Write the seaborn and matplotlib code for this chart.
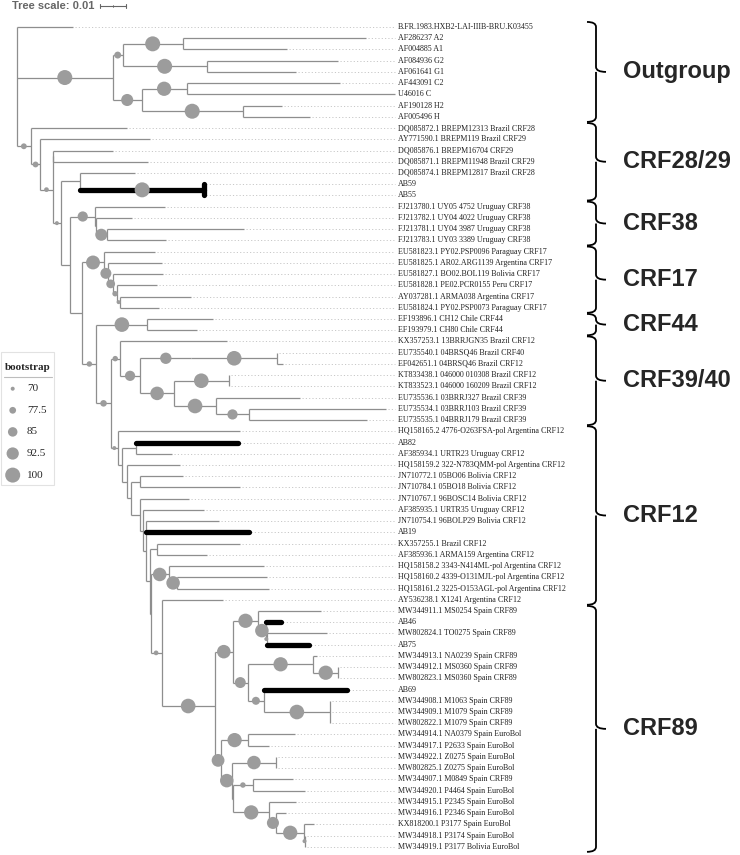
import matplotlib
matplotlib.use("Agg")
import matplotlib.pyplot as plt
import seaborn as sns
from matplotlib.collections import LineCollection
from matplotlib.path import Path
from matplotlib.patches import PathPatch, Rectangle

# ---- data --------------------------------------------------------------
leaf_labels = [
    "B.FR.1983.HXB2-LAI-IIIB-BRU.K03455", "AF286237 A2", "AF004885 A1",
    "AF084936 G2", "AF061641 G1", "AF443091 C2", "U46016 C", "AF190128 H2",
    "AF005496 H",
    "DQ085872.1 BREPM12313 Brazil CRF28", "AY771590.1 BREPM119 Brazil CRF29",
    "DQ085876.1 BREPM16704 CRF29", "DQ085871.1 BREPM11948 Brazil CRF29",
    "DQ085874.1 BREPM12817 Brazil CRF28", "AB59", "AB55",
    "FJ213780.1 UY05 4752 Uruguay CRF38", "FJ213782.1 UY04 4022 Uruguay CRF38",
    "FJ213781.1 UY04 3987 Uruguay CRF38", "FJ213783.1 UY03 3389 Uruguay CRF38",
    "EU581823.1 PY02.PSP0096 Paraguay CRF17",
    "EU581825.1 AR02.ARG1139 Argentina CRF17",
    "EU581827.1 BO02.BOL119 Bolivia CRF17", "EU581828.1 PE02.PCR0155 Peru CRF17",
    "AY037281.1 ARMA038 Argentina CRF17",
    "EU581824.1 PY02.PSP0073 Paraguay CRF17",
    "EF193896.1 CH12 Chile CRF44", "EF193979.1 CH80 Chile CRF44",
    "KX357253.1 13BRRJGN35 Brazil CRF12", "EU735540.1 04BRSQ46 Brazil CRF40",
    "EF042651.1 04BRSQ46 Brazil CRF12", "KT833438.1 046000 010308 Brazil CRF12",
    "KT833523.1 046000 160209 Brazil CRF12", "EU735536.1 03BRRJ327 Brazil CRF39",
    "EU735534.1 03BRRJ103 Brazil CRF39", "EU735535.1 04BRRJ179 Brazil CRF39",
    "HQ158165.2 4776-O263FSA-pol Argentina CRF12", "AB82",
    "AF385934.1 URTR23 Uruguay CRF12", "HQ158159.2 322-N783QMM-pol Argentina CRF12",
    "JN710772.1 05BO06 Bolivia CRF12", "JN710784.1 05BO18 Bolivia CRF12",
    "JN710767.1 96BOSC14 Bolivia CRF12", "AF385935.1 URTR35 Uruguay CRF12",
    "JN710754.1 96BOLP29 Bolivia CRF12", "AB19", "KX357255.1 Brazil CRF12",
    "AF385936.1 ARMA159 Argentina CRF12", "HQ158158.2 3343-N414ML-pol Argentina CRF12",
    "HQ158160.2 4339-O131MJL-pol Argentina CRF12",
    "HQ158161.2 3225-O153AGL-pol Argentina CRF12", "AY536238.1 X1241 Argentina CRF12",
    "MW344911.1 MS0254 Spain CRF89", "AB46", "MW802824.1 TO0275 Spain CRF89", "AB75",
    "MW344913.1 NA0239 Spain CRF89", "MW344912.1 MS0360 Spain CRF89",
    "MW802823.1 MS0360 Spain CRF89", "AB69", "MW344908.1 M1063 Spain CRF89",
    "MW344909.1 M1079 Spain CRF89", "MW802822.1 M1079 Spain CRF89",
    "MW344914.1 NA0379 Spain EuroBol", "MW344917.1 P2633 Spain EuroBol",
    "MW344922.1 Z0275 Spain EuroBol", "MW802825.1 Z0275 Spain EuroBol",
    "MW344907.1 M0849 Spain CRF89", "MW344920.1 P4464 Spain EuroBol",
    "MW344915.1 P2345 Spain EuroBol", "MW344916.1 P2346 Spain EuroBol",
    "KX818200.1 P3177 Spain EuroBol", "MW344918.1 P3174 Spain EuroBol",
    "MW344919.1 P3177 Bolivia EuroBol",
]

# newick pieces: leaves are 1-based indices into leaf_labels,
# internal labels are bootstrap support, lengths in subst./site
outgroup_nwk = ("(((2:0.0704,3:0.0400)100:0.0232,(4:0.0504,5:0.0342)100:0.0324)78:0.0037,"
                "((6:0.0588,7:0.0800)98:0.0174,(8:0.0150,9:0.0258)100:0.0390)92:0.0110)100:0.0370")
crf38_nwk = "(17:0.0269,(18:0.0139,(19:0.0528,20:0.0228)92:0.0043):0.0002)87:0.0096"
crf17_nwk = ("(21:0.0199,(22:0.0207,(23:0.0191,(24:0.0153,(25:0.0272,26:0.0149)70:0.0012)74:0.0015)"
             "83:0.0019)89:0.0018)97:0.0081")
crf44_nwk = "(27:0.0252,28:0.0192)99:0.0197"
crf3940_nwk = ("(29:0.0413,(((30:0,31:0.0023)99:0.0331)90:0.0195,((32:0,33:0)99:0.0212,"
               "(34:0.0323,(35:0.0530,36:0.0455)87:0.0124)99:0.0164)96:0.0128)87:0.0080)74:0.0034")
crf89_nwk = ("(((53:0.0242,(54:0.0058,(55:0.0232,56:0.0163)70:0.0006)96:0.0028)98:0.0098,"
             "((57:0.0015,(58:0,59:0)98:0.0095)98:0.0252,(60:0.0318,(61:0,62:0,63:0)99:0.0253)81:0.0062)"
             "89:0.0058)96:0.0069,((64:0.0183,65:0.0081)98:0.0102,((66:0,67:0)96:0.0167,"
             "((68:0.0154,69:0.0199)74:0.0076,(70:0.0103,(71:0.0035,(72:0.0038,(73:0,74:0)70:0.0004)"
             "98:0.0106)92:0.0027)98:0.0140):0.0003)96:0.0042)94:0.0025)99:0.0205")
crf12_nwk = ("(37:0.0471,((38:0.0392,39:0.0139):0.0053,(40:0.0205,((41:0.0167,42:0.0385):0.0032,"
             "(43:0.0188,(44:0.0233,(45:0.0278,46:0.0393,((47:0.0320,48:0.0190):0.0028,"
             "((49:0.0368,(50:0.0345,51:0.0353)96:0.0033)96:0.0070,(52:0.0237," + crf89_nwk +
             ")72:0.0042):0.0003):0.0013):0.0013):0.0012):0.0033):0.0017):0.0019):0.0016)70:0.0027")
crf2829_nwk = ("(10:0.0369,(11:0.0423,((12:0.0231,13:0.0364):0.0002,((14:0.0212,(15:0,16:0)100:0.0477)"
               ":0.0074,(" + crf38_nwk + ",(" + crf17_nwk + ",(" + crf44_nwk + ",(" + crf3940_nwk +
               "," + crf12_nwk + ")77:0.0056)74:0.0053):0.0047):0.0036)70:0.0031)72:0.0049)75:0.0035)75:0.0055")
tree_nwk = "(1:0.0217," + outgroup_nwk + "," + crf2829_nwk + ");"

study_samples = ["AB59", "AB55", "AB82", "AB19", "AB46", "AB75", "AB69"]
clade_names = ["Outgroup", "CRF28/29", "CRF38", "CRF17", "CRF44", "CRF39/40", "CRF12", "CRF89"]
clade_first = [1, 10, 17, 21, 27, 29, 37, 53]
clade_last = [9, 16, 20, 26, 28, 36, 52, 74]
legend_values = [70, 77.5, 85, 92.5, 100]

# ---- layout -----------------------------------------------------------
X0, PX_PER_UNIT = 16.7, 2600.0
Y0, ROW_H = 27.0, 11.23
LABEL_X = 398
GREY = "#8e8e8e"
DOT = "#9c9c9c"


def parse(s):
    pos = 0

    def node():
        nonlocal pos
        n = {"children": [], "name": None, "support": None, "len": 0.0}
        if s[pos] == "(":
            pos += 1
            while True:
                n["children"].append(node())
                if s[pos] == ",":
                    pos += 1
                    continue
                pos += 1
                break
        start = pos
        while s[pos] not in ":,);":
            pos += 1
        lab = s[start:pos]
        if lab:
            if n["children"]:
                n["support"] = float(lab)
            else:
                n["name"] = int(lab)
        if s[pos] == ":":
            pos += 1
            start = pos
            while s[pos] not in ",);":
                pos += 1
            n["len"] = float(s[start:pos])
        return n

    return node()


def layout(n, x):
    n["x"] = x
    if not n["children"]:
        n["y"] = Y0 + (n["name"] - 1) * ROW_H
        n["leaves"] = [leaf_labels[n["name"] - 1]]
        return
    for c in n["children"]:
        layout(c, x + c["len"] * PX_PER_UNIT)
    n["y"] = (n["children"][0]["y"] + n["children"][-1]["y"]) / 2
    n["leaves"] = [l for c in n["children"] for l in c["leaves"]]


root = parse(tree_nwk)
layout(root, X0)

branches, thick, dots = [], [], []
cx, cy, cb = [], [], []
tips = []


def walk(n, parent=None):
    hl = all(l in study_samples for l in n["leaves"])
    if parent is not None:
        seg = [(parent["x"], n["y"]), (n["x"], n["y"])]
        (thick if hl and n["x"] - parent["x"] > 1 else branches).append(seg)
        if n["support"] is not None and n["support"] >= 70:
            cx.append((parent["x"] + n["x"]) / 2)
            cy.append(n["y"])
            cb.append(n["support"])
    if n["children"]:
        seg = [(n["x"], n["children"][0]["y"]), (n["x"], n["children"][-1]["y"])]
        (thick if hl else branches).append(seg)
        for c in n["children"]:
            walk(c, n)
    else:
        tips.append((n["x"], n["y"], leaf_labels[n["name"] - 1]))
        if n["x"] < LABEL_X - 6:
            dots.append([(n["x"] + 2, n["y"]), (LABEL_X - 3, n["y"])])


walk(root)


def diam(b):
    return 4 + (b - 70) / 30 * 11


def area(b):
    return (diam(b) * 0.72) ** 2


sns.set_style("white")
fig = plt.figure(figsize=(7.4, 8.55), dpi=100)
ax = fig.add_axes([0, 0, 1, 1])

ax.add_collection(LineCollection(dots, colors="#c8c8c8", linewidths=0.7,
                                 linestyles=(0, (1.2, 2.2)), zorder=1))
ax.add_collection(LineCollection(branches, colors=GREY, linewidths=0.9, zorder=2))
ax.add_collection(LineCollection(thick, colors="black", linewidths=3.8,
                                 capstyle="round", zorder=3))

sns.scatterplot(x=cx, y=cy, size=cb, sizes={v: area(v) for v in set(cb)},
                color=DOT, edgecolor="none", linewidth=0, legend=False, ax=ax, zorder=5)

for x, y, lab in tips:
    ax.text(LABEL_X, y, lab, fontsize=5.8, family="Liberation Serif",
            va="center", ha="left", color="#222222")

# clade braces
for name, f, l in zip(clade_names, clade_first, clade_last):
    y0 = Y0 + (f - 1) * ROW_H - 0.45 * ROW_H
    y1 = Y0 + (l - 1) * ROW_H + 0.45 * ROW_H
    ym = (y0 + y1) / 2
    xl, xs, xt = 587, 596, 606
    r = min(5, (y1 - y0) / 4)
    verts = [(xl, y0), (xs, y0), (xs, y0 + r), (xs, ym - r), (xs, ym), (xt, ym),
             (xs, ym), (xs, ym + r), (xs, y1 - r), (xs, y1), (xl, y1)]
    codes = [Path.MOVETO, Path.CURVE3, Path.CURVE3, Path.LINETO, Path.CURVE3, Path.CURVE3,
             Path.MOVETO, Path.CURVE3, Path.LINETO, Path.CURVE3, Path.CURVE3]
    ax.add_patch(PathPatch(Path(verts, codes), fill=False, lw=1.3, color="black", zorder=4))
    ax.text(623, ym, name, fontsize=17, fontweight="bold", family="Liberation Sans",
            va="center", ha="left")

# legend
ax.add_patch(Rectangle((0.5, 352), 53, 133, fill=False, edgecolor="#e2e2e2", lw=0.8))
ax.text(5, 367, "bootstrap", fontsize=8, fontweight="bold", family="Liberation Serif",
        va="center", ha="left")
ax.plot([4, 52], [377, 377], color="#bdbdbd", lw=0.8)
ly = [388.7 + 21.6 * k for k in range(len(legend_values))]
sns.scatterplot(x=[12.7] * len(legend_values), y=ly, size=legend_values,
                sizes={v: area(v) for v in legend_values}, color=DOT, edgecolor="none",
                linewidth=0, legend=False, ax=ax, zorder=5)
for v, y in zip(legend_values, ly):
    ax.text(27, y, f"{v:g}", fontsize=8, family="Liberation Serif", va="center", ha="left")

# tree scale
ax.text(12, 6, "Tree scale: 0.01", fontsize=8, fontweight="bold", family="Liberation Sans",
        va="center", ha="left", color="#666666")
bx0, bx1 = 100, 100 + 0.01 * PX_PER_UNIT
ax.plot([bx0, bx1], [6, 6], color="#666666", lw=0.8)
ax.plot([bx0, bx0], [4, 8], color="#666666", lw=0.8)
ax.plot([bx1, bx1], [4, 8], color="#666666", lw=0.8)
ax.plot([(bx0 + bx1) / 2] * 2, [5.2, 6.8], color="#666666", lw=0.6)

ax.set_xlim(0, 740)
ax.set_ylim(855, 0)
ax.axis("off")
fig.savefig("out.png", dpi=100)
